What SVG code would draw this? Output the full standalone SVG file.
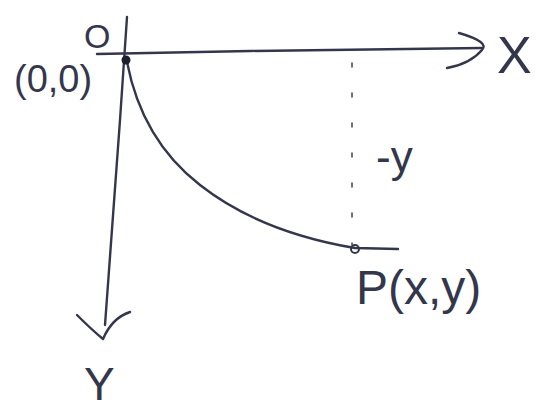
<svg xmlns="http://www.w3.org/2000/svg" width="555" height="411" viewBox="0 0 555 411">
<style>
.ln{fill:none;stroke:#34374c;stroke-width:2.4;stroke-linecap:round;stroke-linejoin:round}
.dash{fill:none;stroke:#4a4c5e;stroke-width:1.6;stroke-dasharray:4 26;stroke-linecap:round}
.t{font-family:"Liberation Sans","DejaVu Sans",sans-serif;fill:#34374c}
</style>
<rect width="555" height="411" fill="#ffffff"/>
<g id="connectors">
<path class="ln" d="M97,54 L250,51 L482,48"/>
<path class="ln" d="M459,33 Q490,42 482,50 Q470,64 447,68"/>
<path class="ln" d="M127,17 L120,120 L105,325"/>
<path class="ln" d="M77,315 Q92,330 103,339 Q112,318 130,312"/>
<path class="ln" d="M127,62 Q142,140 200,185 Q260,232 355,248 L398,249"/>
<path class="dash" d="M352,63 L352,245"/>
</g>
<g id="origin">
<circle cx="126" cy="60" r="4.5" fill="#1e1f2c"/>
<text class="t" x="84" y="48" font-size="34">O</text>
<text class="t" x="14" y="92" font-size="38">(0,0)</text>
</g>
<g id="point-P">
<circle cx="355" cy="249" r="4" fill="none" stroke="#34374c" stroke-width="2"/>
<text class="t" x="356" y="304" font-size="48">P(x,y)</text>
</g>
<g id="label-y">
<text class="t" x="376" y="172" font-size="44">-y</text>
</g>
<g id="axis-X">
<text class="t" x="497" y="73" font-size="52">X</text>
</g>
<g id="axis-Y">
<text class="t" x="84" y="400" font-size="46">Y</text>
</g>
</svg>
